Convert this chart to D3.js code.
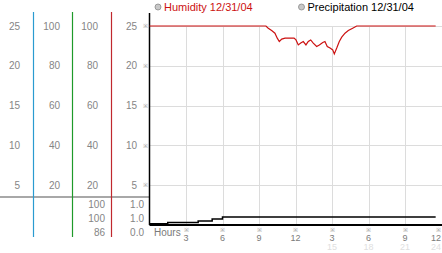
<!DOCTYPE html>
<html>
<head>
<meta charset="utf-8">
<script src="https://cdn.jsdelivr.net/npm/d3@7"></script>
<style>
  body { margin: 0; background: #fff; }
  svg { display: block; font-family: "Liberation Sans", Arial, sans-serif; }
  .lbl { font-size: 10px; fill: #858585; }
  .xl { font-size: 9px; }
</style>
</head>
<body>
<div id="chart"></div>
<script>
// scale columns on the left
var colA = [25, 20, 15, 10, 5];
var colB = [100, 80, 60, 40, 20];
var colC = [100, 80, 60, 40, 20];
var colD = [25, 20, 15, 10, 5];
// summary rows under the divider
var summaryHum = ["100", "100", "86"];
var summaryPrec = ["1.0", "1.0", "0.0"];

// x axis
var xTickHours = [3, 6, 9, 12, 15, 18, 21, 24];
var xTickLabels = ["3", "6", "9", "12", "3", "6", "9", "12"];
var xTickLabels2 = ["", "", "", "", "15", "18", "21", "24"];

// humidity (%) by hour
var humHours = [0, 9.57, 9.76, 10.04, 10.31, 10.5, 10.67, 10.87, 11.14, 11.55, 11.88, 12.04, 12.23, 12.43,
    12.64, 12.86, 13.05, 13.25, 13.46, 13.74, 13.96, 14.24, 14.42, 14.61, 14.84, 15.06, 15.19, 15.39,
    15.6, 15.8, 16.07, 16.34, 16.7, 17.03, 23.52];
var humValues = [100, 100, 98.9, 97.7, 96.4, 93.9, 92.2, 93.4, 93.9, 93.9, 93.9, 93, 90.5, 91.4,
    92.2, 90.5, 92.2, 93, 91.4, 89.7, 90.5, 91.7, 92.2, 89.7, 88.9, 88, 86, 88.9,
    92.2, 94.4, 96.4, 97.7, 98.9, 100, 100];

// precipitation (in) by hour, cumulative
var precHours = [0, 1.5, 4, 5.15, 6, 23.52];
var precValues = [0.15, 0.3, 0.5, 0.75, 1.0, 1.0];

var width = 442, height = 253;

var svg = d3.select("#chart").append("svg")
    .attr("width", width)
    .attr("height", height);

var x = d3.scaleLinear().domain([0, 24]).range([149.5, 441.5]);
var y = d3.scaleLinear().domain([0, 25]).range([225, 26]);
var yHum = d3.scaleLinear().domain([0, 100]).range([225, 26]);

// grid
svg.append("g").selectAll("line")
    .data(xTickHours)
    .enter().append("line")
    .attr("x1", d => Math.round(x(d)) + 0.5).attr("x2", d => Math.round(x(d)) + 0.5)
    .attr("y1", y(25)).attr("y2", y(0))
    .attr("stroke", "#dcdcdc");
svg.append("g").selectAll("line")
    .data(colA)
    .enter().append("line")
    .attr("x1", x(0)).attr("x2", width)
    .attr("y1", d => Math.round(y(d)) + 0.5).attr("y2", d => Math.round(y(d)) + 0.5)
    .attr("stroke", "#dcdcdc");

// left panel lines
var divY = 197;
svg.append("line")
    .attr("x1", 0).attr("x2", x(0)).attr("y1", divY).attr("y2", divY)
    .attr("stroke", "#a8a8a8").attr("stroke-width", 2);
[[33.5, "#2a9bd0"], [72.5, "#1f9a2a"], [111.5, "#c0282e"]].forEach(function (c) {
    svg.append("line")
        .attr("x1", c[0]).attr("x2", c[0]).attr("y1", 12).attr("y2", 237)
        .attr("stroke", c[1]).attr("stroke-width", 1.2);
});

// scale labels
function column(vals, rightX) {
    svg.append("g").selectAll("text")
        .data(vals)
        .enter().append("text")
        .attr("class", "lbl")
        .attr("x", rightX)
        .attr("y", d => y(d / vals[0] * 25))
        .attr("dy", "0.35em")
        .attr("text-anchor", "end")
        .text(d => d);
}
column(colA, 20);
column(colB, 60);
column(colC, 98);
column(colD, 137);

var sumY = d3.scalePoint().domain([0, 1, 2]).range([204, 232]);
function summary(vals, rightX) {
    svg.append("g").selectAll("text")
        .data(vals)
        .enter().append("text")
        .attr("class", "lbl")
        .attr("x", rightX)
        .attr("y", (d, i) => sumY(i))
        .attr("dy", "0.35em")
        .attr("text-anchor", "end")
        .text(d => d);
}
summary(summaryHum, 105);
summary(summaryPrec, 144);

// tick marks
svg.append("g").selectAll("text")
    .data(colA)
    .enter().append("text")
    .attr("x", x(0) - 4).attr("y", d => y(d))
    .attr("dy", "0.35em")
    .attr("text-anchor", "middle")
    .style("font-size", "6px").style("fill", "#999")
    .text("※");
svg.append("g").selectAll("text")
    .data(xTickHours)
    .enter().append("text")
    .attr("x", d => Math.min(x(d), 438)).attr("y", 230)
    .attr("dy", "0.35em")
    .attr("text-anchor", "middle")
    .style("font-size", "6px").style("fill", "#999")
    .text("※");

// x labels
svg.append("g").selectAll("text")
    .data(xTickHours)
    .enter().append("text")
    .attr("class", "lbl xl")
    .attr("x", d => Math.min(x(d), 436))
    .attr("y", 237.5)
    .attr("dy", "0.35em")
    .attr("text-anchor", "middle")
    .style("fill", "#7a7a7a")
    .text((d, i) => xTickLabels[i]);
svg.append("g").selectAll("text")
    .data(xTickHours)
    .enter().append("text")
    .attr("class", "lbl xl")
    .attr("x", d => Math.min(x(d), 436))
    .attr("y", 247)
    .attr("dy", "0.35em")
    .attr("text-anchor", "middle")
    .style("fill", "#e0e0e0")
    .text((d, i) => xTickLabels2[i]);
svg.append("text")
    .attr("class", "lbl")
    .attr("x", 154).attr("y", 232.5)
    .attr("dy", "0.35em")
    .style("fill", "#7a7a7a")
    .text("Hours");

// axes
svg.append("line")
    .attr("x1", x(0)).attr("x2", x(0)).attr("y1", 13).attr("y2", y(0))
    .attr("stroke", "#000").attr("stroke-width", 1.5);
svg.append("line")
    .attr("x1", x(0)).attr("x2", width).attr("y1", y(0)).attr("y2", y(0))
    .attr("stroke", "#000").attr("stroke-width", 2);

// series
var precLine = d3.line()
    .x(d => x(d[0])).y(d => y(d[1]))
    .curve(d3.curveStepAfter);
svg.append("path")
    .datum(d3.zip(precHours, precValues))
    .attr("d", precLine)
    .attr("fill", "none").attr("stroke", "#000").attr("stroke-width", 1.5);

var humLine = d3.line()
    .x(d => x(d[0])).y(d => yHum(d[1]));
svg.append("path")
    .datum(d3.zip(humHours, humValues))
    .attr("d", humLine)
    .attr("fill", "none").attr("stroke", "#cc1111").attr("stroke-width", 1.2);

// legend
var legend = [["Humidity 12/31/04", "#cc1111", 158], ["Precipitation 12/31/04", "#000", 301.5]];
legend.forEach(function (l) {
    svg.append("circle")
        .attr("cx", l[2]).attr("cy", 7).attr("r", 3)
        .attr("fill", "#c8c8c8").attr("stroke", "#8a8a8a").attr("stroke-width", 0.8);
    svg.append("text")
        .attr("x", l[2] + 6).attr("y", 7)
        .attr("dy", "0.35em")
        .style("font-size", "11px").style("fill", l[1])
        .text(l[0]);
});
</script>
</body>
</html>
